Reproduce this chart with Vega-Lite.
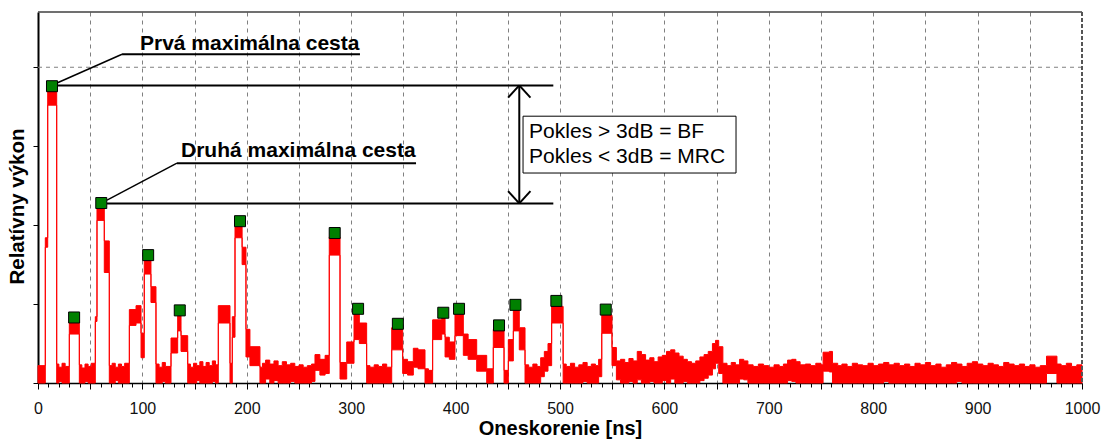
{
  "$schema": "https://vega.github.io/schema/vega-lite/v6.json",
  "width": 1044,
  "height": 371,
  "autosize": {"type": "none"},
  "padding": {"left": 38, "top": 12, "right": 20, "bottom": 56},
  "background": "white",
  "config": {
    "view": {"stroke": null},
    "font": "Liberation Sans",
    "axis": {"labelFont": "Liberation Sans", "titleFont": "Liberation Sans"}
  },
  "datasets": {
    "signal": [
      {"t": 0, "hi": 0.22, "lo": 0},
      {"t": 7.0, "hi": 1.84, "lo": 1.72},
      {"t": 9.3, "hi": 3.72, "lo": 3.52},
      {"t": 17.9, "hi": 0.24, "lo": 0},
      {"t": 20, "hi": 0.2, "lo": 0.02},
      {"t": 23, "hi": 0.25, "lo": 0},
      {"t": 26, "hi": 0.21, "lo": 0},
      {"t": 30.0, "hi": 0.78, "lo": 0.62},
      {"t": 39.6, "hi": 0.23, "lo": 0},
      {"t": 42, "hi": 0.19, "lo": 0},
      {"t": 45, "hi": 0.24, "lo": 0.02},
      {"t": 48, "hi": 0.21, "lo": 0},
      {"t": 51, "hi": 0.25, "lo": 0},
      {"t": 54.9, "hi": 0.84, "lo": 0.78},
      {"t": 56.5, "hi": 2.24, "lo": 2.06},
      {"t": 63.5, "hi": 1.8, "lo": 1.4},
      {"t": 68.3, "hi": 0.22, "lo": 0},
      {"t": 71, "hi": 0.25, "lo": 0},
      {"t": 74, "hi": 0.2, "lo": 0.03},
      {"t": 77, "hi": 0.24, "lo": 0},
      {"t": 80, "hi": 0.21, "lo": 0},
      {"t": 83, "hi": 0.25, "lo": 0},
      {"t": 87.5, "hi": 0.93, "lo": 0.73},
      {"t": 93.9, "hi": 0.98, "lo": 0.76},
      {"t": 98.7, "hi": 0.63, "lo": 0.32},
      {"t": 101.8, "hi": 1.55, "lo": 1.38},
      {"t": 108.2, "hi": 1.22, "lo": 1.02},
      {"t": 113, "hi": 0.24, "lo": 0},
      {"t": 116, "hi": 0.2, "lo": 0},
      {"t": 119, "hi": 0.26, "lo": 0.02},
      {"t": 122, "hi": 0.21, "lo": 0},
      {"t": 127.4, "hi": 0.57, "lo": 0.38},
      {"t": 133.8, "hi": 0.85, "lo": 0.66},
      {"t": 137, "hi": 0.6, "lo": 0.4},
      {"t": 143.4, "hi": 0.24, "lo": 0},
      {"t": 146, "hi": 0.2, "lo": 0},
      {"t": 149, "hi": 0.25, "lo": 0},
      {"t": 152, "hi": 0.22, "lo": 0.03},
      {"t": 155, "hi": 0.27, "lo": 0},
      {"t": 158, "hi": 0.21, "lo": 0},
      {"t": 161, "hi": 0.26, "lo": 0},
      {"t": 164, "hi": 0.22, "lo": 0},
      {"t": 167, "hi": 0.28, "lo": 0.02},
      {"t": 170, "hi": 0.23, "lo": 0},
      {"t": 172.7, "hi": 0.98, "lo": 0.76},
      {"t": 183.9, "hi": 0.25, "lo": 0},
      {"t": 186.1, "hi": 0.84, "lo": 0.58},
      {"t": 188.7, "hi": 1.98, "lo": 1.84},
      {"t": 195.5, "hi": 1.72, "lo": 1.5},
      {"t": 199.2, "hi": 0.68, "lo": 0.33},
      {"t": 203, "hi": 0.46, "lo": 0.22},
      {"t": 212.6, "hi": 0.2, "lo": 0},
      {"t": 215, "hi": 0.25, "lo": 0},
      {"t": 218, "hi": 0.29, "lo": 0.05},
      {"t": 222, "hi": 0.24, "lo": 0},
      {"t": 226, "hi": 0.28, "lo": 0.03},
      {"t": 230, "hi": 0.22, "lo": 0},
      {"t": 234, "hi": 0.27, "lo": 0},
      {"t": 238, "hi": 0.23, "lo": 0},
      {"t": 242, "hi": 0.25, "lo": 0.02},
      {"t": 246, "hi": 0.21, "lo": 0},
      {"t": 250, "hi": 0.23, "lo": 0},
      {"t": 254, "hi": 0.2, "lo": 0},
      {"t": 258, "hi": 0.22, "lo": 0},
      {"t": 262, "hi": 0.24, "lo": 0.02},
      {"t": 265.3, "hi": 0.36, "lo": 0.16},
      {"t": 270, "hi": 0.3, "lo": 0.1},
      {"t": 275, "hi": 0.35, "lo": 0.12},
      {"t": 279, "hi": 1.85, "lo": 1.62},
      {"t": 289.3, "hi": 0.26, "lo": 0.05},
      {"t": 295.7, "hi": 0.52, "lo": 0.25},
      {"t": 302.7, "hi": 0.88, "lo": 0.55},
      {"t": 307.8, "hi": 0.76, "lo": 0.5},
      {"t": 314.8, "hi": 0.22, "lo": 0},
      {"t": 318, "hi": 0.2, "lo": 0},
      {"t": 322, "hi": 0.23, "lo": 0},
      {"t": 326, "hi": 0.21, "lo": 0},
      {"t": 330, "hi": 0.24, "lo": 0},
      {"t": 334, "hi": 0.2, "lo": 0},
      {"t": 338.8, "hi": 0.7, "lo": 0.42},
      {"t": 349.3, "hi": 0.3, "lo": 0.12},
      {"t": 354, "hi": 0.27, "lo": 0.1},
      {"t": 359.5, "hi": 0.44, "lo": 0.2},
      {"t": 364, "hi": 0.42, "lo": 0.18},
      {"t": 370.7, "hi": 0.18, "lo": 0},
      {"t": 374, "hi": 0.16, "lo": 0},
      {"t": 378, "hi": 0.8, "lo": 0.55},
      {"t": 386.7, "hi": 0.84, "lo": 0.62},
      {"t": 389.9, "hi": 0.58, "lo": 0.33},
      {"t": 394, "hi": 0.52, "lo": 0.3},
      {"t": 399.4, "hi": 0.88, "lo": 0.6},
      {"t": 407.4, "hi": 0.62, "lo": 0.35},
      {"t": 412, "hi": 0.55, "lo": 0.3},
      {"t": 420.2, "hi": 0.35, "lo": 0.15},
      {"t": 429.8, "hi": 0.18, "lo": 0},
      {"t": 436.1, "hi": 0.68, "lo": 0.45},
      {"t": 446.4, "hi": 0.16, "lo": 0},
      {"t": 450.5, "hi": 0.55, "lo": 0.28},
      {"t": 455.3, "hi": 0.92, "lo": 0.66},
      {"t": 461, "hi": 0.7, "lo": 0.42},
      {"t": 466.5, "hi": 0.23, "lo": 0},
      {"t": 470, "hi": 0.2, "lo": 0},
      {"t": 474, "hi": 0.24, "lo": 0},
      {"t": 478, "hi": 0.21, "lo": 0},
      {"t": 481.5, "hi": 0.32, "lo": 0.08},
      {"t": 485, "hi": 0.4, "lo": 0.15},
      {"t": 488.5, "hi": 0.5, "lo": 0.22},
      {"t": 492, "hi": 0.97, "lo": 0.76},
      {"t": 503, "hi": 0.24, "lo": 0},
      {"t": 506, "hi": 0.21, "lo": 0},
      {"t": 510, "hi": 0.25, "lo": 0},
      {"t": 514, "hi": 0.2, "lo": 0},
      {"t": 518, "hi": 0.23, "lo": 0},
      {"t": 522, "hi": 0.26, "lo": 0.02},
      {"t": 526, "hi": 0.21, "lo": 0},
      {"t": 530, "hi": 0.24, "lo": 0},
      {"t": 534, "hi": 0.22, "lo": 0},
      {"t": 537, "hi": 0.3, "lo": 0.08},
      {"t": 540, "hi": 0.86, "lo": 0.63},
      {"t": 549.8, "hi": 0.45, "lo": 0.22},
      {"t": 554, "hi": 0.28, "lo": 0.04},
      {"t": 558, "hi": 0.3, "lo": 0},
      {"t": 562, "hi": 0.26, "lo": 0},
      {"t": 566, "hi": 0.31, "lo": 0.02},
      {"t": 570, "hi": 0.28, "lo": 0},
      {"t": 574, "hi": 0.4, "lo": 0.04},
      {"t": 578, "hi": 0.36, "lo": 0},
      {"t": 582, "hi": 0.29, "lo": 0},
      {"t": 586, "hi": 0.32, "lo": 0.02},
      {"t": 590, "hi": 0.27, "lo": 0},
      {"t": 594, "hi": 0.33, "lo": 0},
      {"t": 598, "hi": 0.35, "lo": 0.03},
      {"t": 602, "hi": 0.4, "lo": 0},
      {"t": 606, "hi": 0.42, "lo": 0.05},
      {"t": 610, "hi": 0.38, "lo": 0},
      {"t": 614, "hi": 0.34, "lo": 0},
      {"t": 618, "hi": 0.3, "lo": 0.02},
      {"t": 622, "hi": 0.27, "lo": 0},
      {"t": 626, "hi": 0.25, "lo": 0},
      {"t": 630, "hi": 0.28, "lo": 0},
      {"t": 634, "hi": 0.33, "lo": 0.03},
      {"t": 638, "hi": 0.36, "lo": 0.06},
      {"t": 642, "hi": 0.4, "lo": 0.1},
      {"t": 646, "hi": 0.5, "lo": 0.18},
      {"t": 649, "hi": 0.54, "lo": 0.25},
      {"t": 652, "hi": 0.46, "lo": 0.12},
      {"t": 656, "hi": 0.25, "lo": 0},
      {"t": 660, "hi": 0.22, "lo": 0},
      {"t": 664, "hi": 0.26, "lo": 0},
      {"t": 668, "hi": 0.23, "lo": 0},
      {"t": 672, "hi": 0.3, "lo": 0.05},
      {"t": 676, "hi": 0.28, "lo": 0.04},
      {"t": 680, "hi": 0.23, "lo": 0},
      {"t": 685, "hi": 0.21, "lo": 0},
      {"t": 690, "hi": 0.24, "lo": 0},
      {"t": 695, "hi": 0.22, "lo": 0},
      {"t": 700, "hi": 0.2, "lo": 0},
      {"t": 705, "hi": 0.23, "lo": 0},
      {"t": 710, "hi": 0.21, "lo": 0},
      {"t": 714, "hi": 0.24, "lo": 0},
      {"t": 718, "hi": 0.29, "lo": 0.03},
      {"t": 722, "hi": 0.3, "lo": 0.02},
      {"t": 726, "hi": 0.27, "lo": 0},
      {"t": 730, "hi": 0.23, "lo": 0},
      {"t": 735, "hi": 0.24, "lo": 0},
      {"t": 740, "hi": 0.22, "lo": 0},
      {"t": 745, "hi": 0.25, "lo": 0},
      {"t": 750, "hi": 0.23, "lo": 0},
      {"t": 752, "hi": 0.39, "lo": 0.15},
      {"t": 758, "hi": 0.4, "lo": 0.14},
      {"t": 761, "hi": 0.25, "lo": 0},
      {"t": 766, "hi": 0.22, "lo": 0},
      {"t": 770, "hi": 0.24, "lo": 0},
      {"t": 775, "hi": 0.21, "lo": 0},
      {"t": 780, "hi": 0.25, "lo": 0},
      {"t": 785, "hi": 0.23, "lo": 0},
      {"t": 790, "hi": 0.22, "lo": 0},
      {"t": 795, "hi": 0.25, "lo": 0},
      {"t": 800, "hi": 0.22, "lo": 0},
      {"t": 805, "hi": 0.24, "lo": 0},
      {"t": 810, "hi": 0.26, "lo": 0.02},
      {"t": 815, "hi": 0.23, "lo": 0},
      {"t": 820, "hi": 0.25, "lo": 0},
      {"t": 825, "hi": 0.22, "lo": 0},
      {"t": 830, "hi": 0.24, "lo": 0},
      {"t": 835, "hi": 0.21, "lo": 0},
      {"t": 840, "hi": 0.25, "lo": 0},
      {"t": 845, "hi": 0.23, "lo": 0},
      {"t": 850, "hi": 0.26, "lo": 0},
      {"t": 855, "hi": 0.22, "lo": 0},
      {"t": 860, "hi": 0.24, "lo": 0},
      {"t": 865, "hi": 0.2, "lo": 0},
      {"t": 870, "hi": 0.23, "lo": 0},
      {"t": 875, "hi": 0.26, "lo": 0},
      {"t": 880, "hi": 0.24, "lo": 0.02},
      {"t": 885, "hi": 0.21, "lo": 0},
      {"t": 890, "hi": 0.25, "lo": 0},
      {"t": 895, "hi": 0.27, "lo": 0},
      {"t": 900, "hi": 0.24, "lo": 0},
      {"t": 905, "hi": 0.22, "lo": 0},
      {"t": 910, "hi": 0.25, "lo": 0},
      {"t": 915, "hi": 0.23, "lo": 0},
      {"t": 920, "hi": 0.21, "lo": 0},
      {"t": 925, "hi": 0.26, "lo": 0},
      {"t": 930, "hi": 0.24, "lo": 0},
      {"t": 935, "hi": 0.22, "lo": 0},
      {"t": 940, "hi": 0.24, "lo": 0},
      {"t": 945, "hi": 0.21, "lo": 0},
      {"t": 950, "hi": 0.23, "lo": 0},
      {"t": 955, "hi": 0.2, "lo": 0},
      {"t": 960, "hi": 0.22, "lo": 0},
      {"t": 966, "hi": 0.34, "lo": 0.12},
      {"t": 976, "hi": 0.24, "lo": 0},
      {"t": 980, "hi": 0.22, "lo": 0},
      {"t": 985, "hi": 0.25, "lo": 0},
      {"t": 990, "hi": 0.21, "lo": 0},
      {"t": 995, "hi": 0.23, "lo": 0},
      {"t": 1000, "hi": 0.23, "lo": 0}
    ],
    "peaks": [
      {"t": 13.4, "v": 3.76},
      {"t": 34.6, "v": 0.83},
      {"t": 60.6, "v": 2.28},
      {"t": 105.5, "v": 1.62},
      {"t": 135.8, "v": 0.92},
      {"t": 193.5, "v": 2.05},
      {"t": 284.2, "v": 1.9},
      {"t": 306.6, "v": 0.94},
      {"t": 344.7, "v": 0.75},
      {"t": 388.2, "v": 0.89},
      {"t": 403.3, "v": 0.94},
      {"t": 441.6, "v": 0.73},
      {"t": 457.3, "v": 0.99},
      {"t": 496.5, "v": 1.04},
      {"t": 543.8, "v": 0.93}
    ],
    "thick": [
      {"x": 19, "y": 3.77, "x2": 493.6, "y2": 3.77},
      {"x": 66, "y": 2.275, "x2": 493.6, "y2": 2.275},
      {"x": 461, "y": 3.77, "x2": 461, "y2": 2.275},
      {"x": 461, "y": 3.77, "x2": 450.3, "y2": 3.615},
      {"x": 461, "y": 3.77, "x2": 471.7, "y2": 3.615},
      {"x": 461, "y": 2.275, "x2": 450.3, "y2": 2.43},
      {"x": 461, "y": 2.275, "x2": 471.7, "y2": 2.43},
      {"x": 80.5, "y": 4.165, "x2": 308.4, "y2": 4.165},
      {"x": 133.1, "y": 2.785, "x2": 362.1, "y2": 2.785}
    ],
    "thin": [
      {"x": 18.2, "y": 3.8, "x2": 80.5, "y2": 4.165},
      {"x": 66.1, "y": 2.316, "x2": 133.1, "y2": 2.785}
    ],
    "box": [
      {"x": 464.6, "y": 3.38, "x2": 668.6, "y2": 2.66}
    ],
    "boldText": [
      {"x": 97.7, "y": 4.215, "text": "Prvá maximálna cesta"},
      {"x": 137, "y": 2.86, "text": "Druhá maximálna cesta"}
    ],
    "boxText": [
      {"x": 470.4, "y": 3.18, "text": "Pokles > 3dB = BF"},
      {"x": 470.4, "y": 2.865, "text": "Pokles < 3dB = MRC"}
    ],
    "one": [{}]
  },
  "layer": [
    {
      "data": {"name": "signal"},
      "mark": {"type": "area", "interpolate": "step-after", "color": "#ff0000", "stroke": "#ff0000", "strokeWidth": 1, "opacity": 1},
      "encoding": {
        "x": {"field": "t", "type": "quantitative", "title": "Oneskorenie [ns]", "scale": {"domain": [0, 1000], "nice": false, "zero": false},
          "axis": {"titleFontSize": 20, "titleFontWeight": "bold", "titleColor": "#000", "titlePadding": 2, "tickCount": 100, "labelExpr": "datum.value % 100 === 0 ? datum.label : ''", "labelOverlap": false, "labelFontSize": 16, "labelColor": "#111", "labelPadding": 11, "labelBound": false, "labelFlush": false, "format": "d", "domainColor": "#000", "domainWidth": 1.5, "tickColor": "#000", "tickWidth": 1, "tickSize": {"condition": {"test": "datum.value % 50 === 0", "value": 6}, "value": 4}, "grid": true, "gridColor": "#808080", "gridDash": [4, 4], "gridWidth": 1, "gridOpacity": {"condition": {"test": "datum.value % 50 === 0 && datum.value > 0 && datum.value < 1000", "value": 1}, "value": 0}}},
        "y": {"field": "hi", "type": "quantitative", "title": "Relatívny výkon", "scale": {"domain": [0, 4.7], "nice": false},
          "axis": {"titleFontSize": 20.5, "titleFontWeight": "bold", "titleColor": "#000", "titlePadding": 5, "titleY": 194, "values": [0, 1, 2, 3, 4], "labels": false, "grid": false, "tickSize": 5, "tickColor": "#000", "domainColor": "#000", "domainWidth": 2}},
        "y2": {"field": "lo"}
      }
    },
    {
      "data": {"name": "one"},
      "mark": {"type": "rule", "color": "#808080", "strokeDash": [4, 4], "strokeWidth": 1},
      "encoding": {
        "y": {"datum": 4, "type": "quantitative", "title": "Relatívny výkon", "scale": {"domain": [0, 4.7], "nice": false},
          "axis": {"titleFontSize": 20.5, "titleFontWeight": "bold", "titleColor": "#000", "titlePadding": 5, "titleY": 194, "values": [0, 1, 2, 3, 4], "labels": false, "grid": false, "tickSize": 5, "tickColor": "#000", "domainColor": "#000", "domainWidth": 2}}
      }
    },
    {
      "data": {"name": "one"},
      "mark": {"type": "rule", "color": "#404040", "strokeWidth": 1.5},
      "encoding": {
        "y": {"datum": 4.7, "type": "quantitative", "title": "Relatívny výkon", "scale": {"domain": [0, 4.7], "nice": false},
          "axis": {"titleFontSize": 20.5, "titleFontWeight": "bold", "titleColor": "#000", "titlePadding": 5, "titleY": 194, "values": [0, 1, 2, 3, 4], "labels": false, "grid": false, "tickSize": 5, "tickColor": "#000", "domainColor": "#000", "domainWidth": 2}}
      }
    },
    {
      "data": {"name": "one"},
      "mark": {"type": "rule", "color": "#555555", "strokeWidth": 2, "strokeDash": [4, 2]},
      "encoding": {
        "x": {"datum": 1000, "type": "quantitative", "title": "Oneskorenie [ns]", "scale": {"domain": [0, 1000], "nice": false, "zero": false},
          "axis": {"titleFontSize": 20, "titleFontWeight": "bold", "titleColor": "#000", "titlePadding": 2, "tickCount": 100, "labelExpr": "datum.value % 100 === 0 ? datum.label : ''", "labelOverlap": false, "labelFontSize": 16, "labelColor": "#111", "labelPadding": 11, "labelBound": false, "labelFlush": false, "format": "d", "domainColor": "#000", "domainWidth": 1.5, "tickColor": "#000", "tickWidth": 1, "tickSize": {"condition": {"test": "datum.value % 50 === 0", "value": 6}, "value": 4}, "grid": true, "gridColor": "#808080", "gridDash": [4, 4], "gridWidth": 1, "gridOpacity": {"condition": {"test": "datum.value % 50 === 0 && datum.value > 0 && datum.value < 1000", "value": 1}, "value": 0}}}
      }
    },
    {
      "data": {"name": "thick"},
      "mark": {"type": "rule", "color": "#000", "strokeWidth": 2},
      "encoding": {
        "x": {"field": "x", "type": "quantitative", "title": "Oneskorenie [ns]", "scale": {"domain": [0, 1000], "nice": false, "zero": false},
          "axis": {"titleFontSize": 20, "titleFontWeight": "bold", "titleColor": "#000", "titlePadding": 2, "tickCount": 100, "labelExpr": "datum.value % 100 === 0 ? datum.label : ''", "labelOverlap": false, "labelFontSize": 16, "labelColor": "#111", "labelPadding": 11, "labelBound": false, "labelFlush": false, "format": "d", "domainColor": "#000", "domainWidth": 1.5, "tickColor": "#000", "tickWidth": 1, "tickSize": {"condition": {"test": "datum.value % 50 === 0", "value": 6}, "value": 4}, "grid": true, "gridColor": "#808080", "gridDash": [4, 4], "gridWidth": 1, "gridOpacity": {"condition": {"test": "datum.value % 50 === 0 && datum.value > 0 && datum.value < 1000", "value": 1}, "value": 0}}},
        "y": {"field": "y", "type": "quantitative", "title": "Relatívny výkon", "scale": {"domain": [0, 4.7], "nice": false},
          "axis": {"titleFontSize": 20.5, "titleFontWeight": "bold", "titleColor": "#000", "titlePadding": 5, "titleY": 194, "values": [0, 1, 2, 3, 4], "labels": false, "grid": false, "tickSize": 5, "tickColor": "#000", "domainColor": "#000", "domainWidth": 2}},
        "x2": {"field": "x2"},
        "y2": {"field": "y2"}
      }
    },
    {
      "data": {"name": "thin"},
      "mark": {"type": "rule", "color": "#000", "strokeWidth": 1.5},
      "encoding": {
        "x": {"field": "x", "type": "quantitative", "title": "Oneskorenie [ns]", "scale": {"domain": [0, 1000], "nice": false, "zero": false},
          "axis": {"titleFontSize": 20, "titleFontWeight": "bold", "titleColor": "#000", "titlePadding": 2, "tickCount": 100, "labelExpr": "datum.value % 100 === 0 ? datum.label : ''", "labelOverlap": false, "labelFontSize": 16, "labelColor": "#111", "labelPadding": 11, "labelBound": false, "labelFlush": false, "format": "d", "domainColor": "#000", "domainWidth": 1.5, "tickColor": "#000", "tickWidth": 1, "tickSize": {"condition": {"test": "datum.value % 50 === 0", "value": 6}, "value": 4}, "grid": true, "gridColor": "#808080", "gridDash": [4, 4], "gridWidth": 1, "gridOpacity": {"condition": {"test": "datum.value % 50 === 0 && datum.value > 0 && datum.value < 1000", "value": 1}, "value": 0}}},
        "y": {"field": "y", "type": "quantitative", "title": "Relatívny výkon", "scale": {"domain": [0, 4.7], "nice": false},
          "axis": {"titleFontSize": 20.5, "titleFontWeight": "bold", "titleColor": "#000", "titlePadding": 5, "titleY": 194, "values": [0, 1, 2, 3, 4], "labels": false, "grid": false, "tickSize": 5, "tickColor": "#000", "domainColor": "#000", "domainWidth": 2}},
        "x2": {"field": "x2"},
        "y2": {"field": "y2"}
      }
    },
    {
      "data": {"name": "peaks"},
      "mark": {"type": "square", "size": 121, "color": "#008000", "stroke": "#000", "strokeWidth": 1, "opacity": 1, "filled": true},
      "encoding": {
        "x": {"field": "t", "type": "quantitative", "title": "Oneskorenie [ns]", "scale": {"domain": [0, 1000], "nice": false, "zero": false},
          "axis": {"titleFontSize": 20, "titleFontWeight": "bold", "titleColor": "#000", "titlePadding": 2, "tickCount": 100, "labelExpr": "datum.value % 100 === 0 ? datum.label : ''", "labelOverlap": false, "labelFontSize": 16, "labelColor": "#111", "labelPadding": 11, "labelBound": false, "labelFlush": false, "format": "d", "domainColor": "#000", "domainWidth": 1.5, "tickColor": "#000", "tickWidth": 1, "tickSize": {"condition": {"test": "datum.value % 50 === 0", "value": 6}, "value": 4}, "grid": true, "gridColor": "#808080", "gridDash": [4, 4], "gridWidth": 1, "gridOpacity": {"condition": {"test": "datum.value % 50 === 0 && datum.value > 0 && datum.value < 1000", "value": 1}, "value": 0}}},
        "y": {"field": "v", "type": "quantitative", "title": "Relatívny výkon", "scale": {"domain": [0, 4.7], "nice": false},
          "axis": {"titleFontSize": 20.5, "titleFontWeight": "bold", "titleColor": "#000", "titlePadding": 5, "titleY": 194, "values": [0, 1, 2, 3, 4], "labels": false, "grid": false, "tickSize": 5, "tickColor": "#000", "domainColor": "#000", "domainWidth": 2}}
      }
    },
    {
      "data": {"name": "box"},
      "mark": {"type": "rect", "fill": "#fff", "stroke": "#000", "strokeWidth": 1},
      "encoding": {
        "x": {"field": "x", "type": "quantitative", "title": "Oneskorenie [ns]", "scale": {"domain": [0, 1000], "nice": false, "zero": false},
          "axis": {"titleFontSize": 20, "titleFontWeight": "bold", "titleColor": "#000", "titlePadding": 2, "tickCount": 100, "labelExpr": "datum.value % 100 === 0 ? datum.label : ''", "labelOverlap": false, "labelFontSize": 16, "labelColor": "#111", "labelPadding": 11, "labelBound": false, "labelFlush": false, "format": "d", "domainColor": "#000", "domainWidth": 1.5, "tickColor": "#000", "tickWidth": 1, "tickSize": {"condition": {"test": "datum.value % 50 === 0", "value": 6}, "value": 4}, "grid": true, "gridColor": "#808080", "gridDash": [4, 4], "gridWidth": 1, "gridOpacity": {"condition": {"test": "datum.value % 50 === 0 && datum.value > 0 && datum.value < 1000", "value": 1}, "value": 0}}},
        "y": {"field": "y", "type": "quantitative", "title": "Relatívny výkon", "scale": {"domain": [0, 4.7], "nice": false},
          "axis": {"titleFontSize": 20.5, "titleFontWeight": "bold", "titleColor": "#000", "titlePadding": 5, "titleY": 194, "values": [0, 1, 2, 3, 4], "labels": false, "grid": false, "tickSize": 5, "tickColor": "#000", "domainColor": "#000", "domainWidth": 2}},
        "x2": {"field": "x2"},
        "y2": {"field": "y2"}
      }
    },
    {
      "data": {"name": "boxText"},
      "mark": {"type": "text", "align": "left", "baseline": "middle", "fontSize": 21, "font": "Liberation Sans", "color": "#000"},
      "encoding": {
        "x": {"field": "x", "type": "quantitative", "title": "Oneskorenie [ns]", "scale": {"domain": [0, 1000], "nice": false, "zero": false},
          "axis": {"titleFontSize": 20, "titleFontWeight": "bold", "titleColor": "#000", "titlePadding": 2, "tickCount": 100, "labelExpr": "datum.value % 100 === 0 ? datum.label : ''", "labelOverlap": false, "labelFontSize": 16, "labelColor": "#111", "labelPadding": 11, "labelBound": false, "labelFlush": false, "format": "d", "domainColor": "#000", "domainWidth": 1.5, "tickColor": "#000", "tickWidth": 1, "tickSize": {"condition": {"test": "datum.value % 50 === 0", "value": 6}, "value": 4}, "grid": true, "gridColor": "#808080", "gridDash": [4, 4], "gridWidth": 1, "gridOpacity": {"condition": {"test": "datum.value % 50 === 0 && datum.value > 0 && datum.value < 1000", "value": 1}, "value": 0}}},
        "y": {"field": "y", "type": "quantitative", "title": "Relatívny výkon", "scale": {"domain": [0, 4.7], "nice": false},
          "axis": {"titleFontSize": 20.5, "titleFontWeight": "bold", "titleColor": "#000", "titlePadding": 5, "titleY": 194, "values": [0, 1, 2, 3, 4], "labels": false, "grid": false, "tickSize": 5, "tickColor": "#000", "domainColor": "#000", "domainWidth": 2}},
        "text": {"field": "text"}
      }
    },
    {
      "data": {"name": "boldText"},
      "mark": {"type": "text", "align": "left", "baseline": "alphabetic", "fontSize": 21, "fontWeight": "bold", "font": "Liberation Sans", "color": "#000"},
      "encoding": {
        "x": {"field": "x", "type": "quantitative", "title": "Oneskorenie [ns]", "scale": {"domain": [0, 1000], "nice": false, "zero": false},
          "axis": {"titleFontSize": 20, "titleFontWeight": "bold", "titleColor": "#000", "titlePadding": 2, "tickCount": 100, "labelExpr": "datum.value % 100 === 0 ? datum.label : ''", "labelOverlap": false, "labelFontSize": 16, "labelColor": "#111", "labelPadding": 11, "labelBound": false, "labelFlush": false, "format": "d", "domainColor": "#000", "domainWidth": 1.5, "tickColor": "#000", "tickWidth": 1, "tickSize": {"condition": {"test": "datum.value % 50 === 0", "value": 6}, "value": 4}, "grid": true, "gridColor": "#808080", "gridDash": [4, 4], "gridWidth": 1, "gridOpacity": {"condition": {"test": "datum.value % 50 === 0 && datum.value > 0 && datum.value < 1000", "value": 1}, "value": 0}}},
        "y": {"field": "y", "type": "quantitative", "title": "Relatívny výkon", "scale": {"domain": [0, 4.7], "nice": false},
          "axis": {"titleFontSize": 20.5, "titleFontWeight": "bold", "titleColor": "#000", "titlePadding": 5, "titleY": 194, "values": [0, 1, 2, 3, 4], "labels": false, "grid": false, "tickSize": 5, "tickColor": "#000", "domainColor": "#000", "domainWidth": 2}},
        "text": {"field": "text"}
      }
    }
  ]
}
